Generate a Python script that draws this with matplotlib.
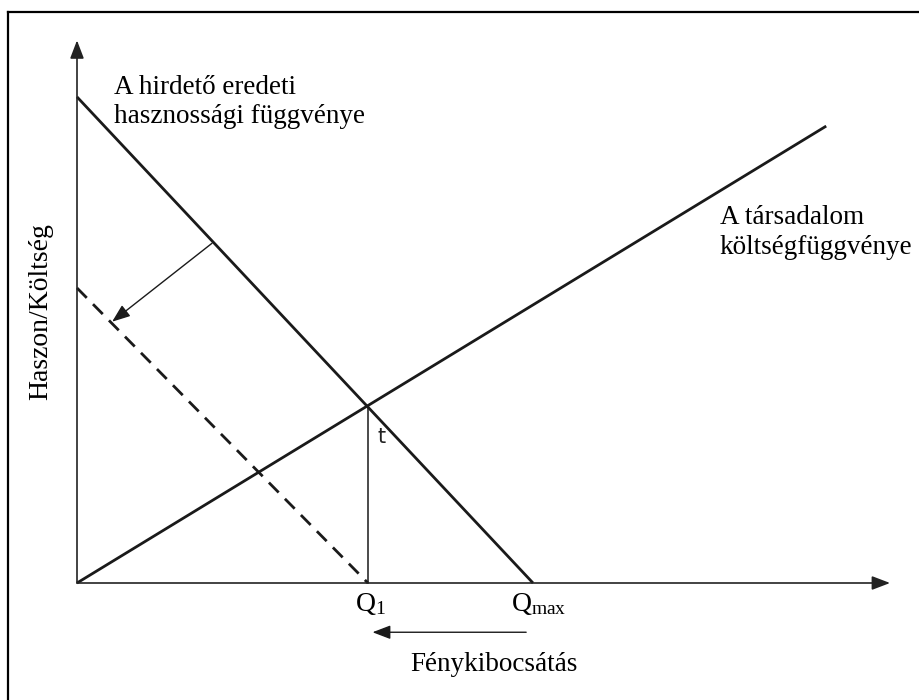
import matplotlib

matplotlib.use("Agg")
import matplotlib.pyplot as plt
from matplotlib.lines import Line2D

# quantities are in units where Q_max = 10
Q_MAX = 10.0
Q1 = 6.38
DEMAND_Q = [0.0, Q_MAX]          # original utility of the advertiser
DEMAND_V = [10.66, 0.0]
SHIFTED_Q = [0.0, Q1]            # utility after the tax (dashed)
SHIFTED_V = [6.47, 0.0]
COST_Q = [0.0, 16.43]            # social cost
COST_V = [0.0, 10.02]
T_TOP = 3.88                     # intersection height (tax t)
SHIFT_FROM = (2.96, 7.45)        # arrow start on original curve
SHIFT_TO = (0.77, 5.73)          # arrow end on dashed curve
X_END = 17.83
Y_END = 11.9

PX = 45.6                        # pixels per unit
ORIGIN = (77, 583)               # origin in pixels
W, H = 919, 700

plt.rcParams.update({"font.family": ["Liberation Serif", "DejaVu Serif"],
                     "mathtext.fontset": "custom",
                     "mathtext.rm": "Liberation Serif",
                     "mathtext.it": "Liberation Serif:italic"})

HEAD = "-|>,head_length=1.1,head_width=0.42"


def main():
    fig = plt.figure(figsize=(W / 100, H / 100), dpi=100)
    ax = fig.add_axes([0, 0, 1, 1])
    ax.set_xlim(-ORIGIN[0] / PX, (W - ORIGIN[0]) / PX)
    ax.set_ylim(-(H - ORIGIN[1]) / PX, ORIGIN[1] / PX)
    ax.axis("off")

    # frame (top and left only)
    fig.add_artist(Line2D([8 / W, 1], [1 - 12 / H, 1 - 12 / H],
                          transform=fig.transFigure, color="black", lw=1.6))
    fig.add_artist(Line2D([8 / W, 8 / W], [0, 1 - 12 / H],
                          transform=fig.transFigure, color="black", lw=1.6))

    # axes with arrows
    ax.annotate("", xy=(X_END, 0), xytext=(0, 0),
                arrowprops=dict(arrowstyle=HEAD, color="#222222", lw=1.2,
                                shrinkA=0, shrinkB=0))
    ax.annotate("", xy=(0, Y_END), xytext=(0, 0),
                arrowprops=dict(arrowstyle=HEAD, color="#222222", lw=1.2,
                                shrinkA=0, shrinkB=0))

    ax.plot(DEMAND_Q, DEMAND_V, color="#1a1a1a", lw=2.0, solid_capstyle="butt")
    ax.plot(COST_Q, COST_V, color="#1a1a1a", lw=2.0, solid_capstyle="butt")
    ax.plot(SHIFTED_Q, SHIFTED_V, color="#1a1a1a", lw=2.0, ls=(0, (5, 3.2)))
    ax.plot([Q1, Q1], [0, T_TOP], color="#1a1a1a", lw=1.1)

    ax.annotate("", xy=SHIFT_TO, xytext=SHIFT_FROM,
                arrowprops=dict(arrowstyle=HEAD, color="#1a1a1a", lw=1.0,
                                shrinkA=0, shrinkB=0))

    ax.text(Q1 + 0.22, 3.2, "t", fontsize=15, family="DejaVu Sans",
            ha="left", va="center", color="#222222")

    ax.text(Q1 + 0.06, -0.46, r"$\mathrm{Q}_{1}$", fontsize=20,
            ha="center", va="center")
    ax.text(Q_MAX + 0.12, -0.46, r"$\mathrm{Q}_{\mathrm{max}}$", fontsize=20,
            ha="center", va="center")
    ax.annotate("", xy=(Q1 + 0.1, -1.08), xytext=(Q_MAX - 0.15, -1.08),
                arrowprops=dict(arrowstyle=HEAD, color="#1a1a1a", lw=1.0,
                                shrinkA=0, shrinkB=0))
    ax.text(9.14, -1.79, "Fénykibocsátás", fontsize=19.5, ha="center", va="center")

    ax.text(-0.8, 5.95, "Haszon/Költség", fontsize=20, rotation=90,
            ha="center", va="center")

    ax.text(0.81, 11.15, "A hirdető eredeti\nhasznossági függvénye", fontsize=19.5,
            ha="left", va="top", linespacing=1.22)
    ax.text(14.1, 8.28, "A társadalom\nköltségfüggvénye", fontsize=19.5,
            ha="left", va="top", linespacing=1.22)

    fig.savefig("out.png", dpi=100, facecolor="white")
    plt.close(fig)


if __name__ == "__main__":
    main()
